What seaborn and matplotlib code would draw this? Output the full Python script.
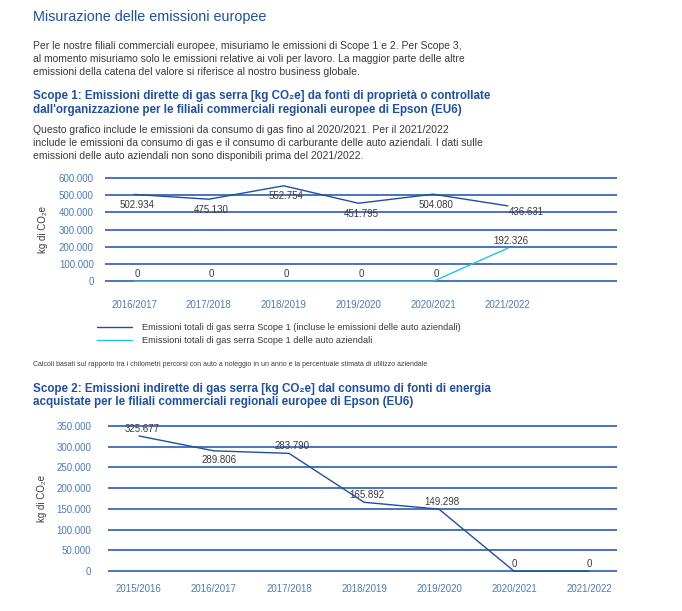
import pandas as pd
import matplotlib
matplotlib.use("Agg")
import matplotlib.pyplot as plt
import seaborn as sns

# --- data ---
years_scope1 = ["2016/2017", "2017/2018", "2018/2019", "2019/2020", "2020/2021", "2021/2022"]
scope1_total = [502934, 475130, 552754, 451795, 504080, 436631]
scope1_cars = [0, 0, 0, 0, 0, 192326]
scope1_ticks = [0, 100000, 200000, 300000, 400000, 500000, 600000]

years_scope2 = ["2015/2016", "2016/2017", "2017/2018", "2018/2019", "2019/2020", "2020/2021", "2021/2022"]
scope2_total = [325677, 289806, 283790, 165892, 149298, 0, 0]
scope2_ticks = [0, 50000, 100000, 150000, 200000, 250000, 300000, 350000]

legend_labels = [
    "Emissioni totali di gas serra Scope 1 (incluse le emissioni delle auto aziendali)",
    "Emissioni totali di gas serra Scope 1 delle auto aziendali",
]

W, H = 682, 611
TITLE_BLUE = "#1f50a6"
LINE_BLUE = "#1d4fa3"
CYAN = "#1ec6e2"
GRID = "#4a74c0"
TICK = "#4a7bc8"
TEXT = "#3a3a3a"

sns.set_theme(style="white")
plt.rcParams["font.family"] = ["Liberation Sans", "DejaVu Sans"]


def fmt(v):
    return f"{v:,.0f}".replace(",", ".")


def px(x, y):
    return x / W, 1 - y / H


def style_axes(ax, ticks, cats, xlim, ypad_tick, xpad_tick, ylabel_pad):
    ax.set_xlim(*xlim)
    top = ticks[-1]
    ax.set_ylim(-top * 0.006, top * 1.006)
    ax.set_yticks(ticks)
    ax.set_yticklabels([fmt(t) for t in ticks])
    ax.set_xticks(range(len(cats)))
    ax.set_xticklabels(cats)
    ax.tick_params(axis="y", length=0, pad=ypad_tick, labelsize=7, labelcolor=TICK)
    ax.tick_params(axis="x", length=0, pad=xpad_tick, labelsize=7, labelcolor=TICK)
    for s in ax.spines.values():
        s.set_visible(False)
    ax.grid(axis="y", color=GRID, linewidth=1.4)
    ax.grid(axis="x", visible=False)
    ax.set_axisbelow(True)
    ax.set_xlabel("")
    ax.set_ylabel("kg di CO\u2082e", fontsize=7, color=TEXT, labelpad=ylabel_pad)


fig = plt.figure(figsize=(W / 100, H / 100), dpi=100)

# --- header texts ---
fig.text(*px(33, 17), "Misurazione delle emissioni europee", fontsize=10.4,
         color=TITLE_BLUE, va="center")
intro = [
    "Per le nostre filiali commerciali europee, misuriamo le emissioni di Scope 1 e 2. Per Scope 3,",
    "al momento misuriamo solo le emissioni relative ai voli per lavoro. La maggior parte delle altre",
    "emissioni della catena del valore si riferisce al nostro business globale.",
]
for i, line in enumerate(intro):
    fig.text(*px(33, 46 + 13 * i), line, fontsize=7.5, color=TEXT, va="center")

head1 = [
    "Scope 1: Emissioni dirette di gas serra [kg CO\u2082e] da fonti di proprietà o controllate",
    "dall'organizzazione per le filiali commerciali regionali europee di Epson (EU6)",
]
for i, line in enumerate(head1):
    fig.text(*px(33, 96 + 13.5 * i), line, fontsize=8.4, fontweight="bold",
             color=TITLE_BLUE, va="center")

note1 = [
    "Questo grafico include le emissioni da consumo di gas fino al 2020/2021. Per il 2021/2022",
    "include le emissioni da consumo di gas e il consumo di carburante delle auto aziendali. I dati sulle",
    "emissioni delle auto aziendali non sono disponibili prima del 2021/2022.",
]
for i, line in enumerate(note1):
    fig.text(*px(33, 130 + 13 * i), line, fontsize=7.5, color=TEXT, va="center")

# --- scope 1 chart ---
ax1 = fig.add_axes([105 / W, 1 - 282 / H, 512 / W, 105 / H])
df1 = pd.DataFrame({"x": range(len(years_scope1)), "total": scope1_total, "cars": scope1_cars})
sns.lineplot(data=df1, x="x", y="total", ax=ax1, color=LINE_BLUE, linewidth=1.0,
             label=legend_labels[0])
sns.lineplot(data=df1, x="x", y="cars", ax=ax1, color=CYAN, linewidth=1.0,
             label=legend_labels[1])
style_axes(ax1, scope1_ticks, years_scope1, (-0.39, 6.46), 8, 13, 8)

for i, v in enumerate(scope1_total):
    if i == len(scope1_total) - 1:
        ax1.annotate(fmt(v), (i, v), xytext=(1, -1), textcoords="offset points",
                     ha="left", va="top", fontsize=7, color=TEXT)
    else:
        ax1.annotate(fmt(v), (i, v), xytext=(2, -4), textcoords="offset points",
                     ha="center", va="top", fontsize=7, color=TEXT)
for i, v in enumerate(scope1_cars):
    ax1.annotate(fmt(v), (i, v), xytext=(2, 1.5), textcoords="offset points",
                 ha="center", va="bottom", fontsize=7, color=TEXT)

ax1.legend(loc="upper left", bbox_to_anchor=px(97, 323), bbox_transform=fig.transFigure,
           frameon=False, fontsize=6.6, handlelength=3.8, handletextpad=1.1,
           borderpad=0, borderaxespad=0, labelspacing=0.45, labelcolor=TEXT)

fig.text(*px(33, 364),
         "Calcoli basati sul rapporto tra i chilometri percorsi con auto a noleggio in un anno "
         "e la percentuale stimata di utilizzo aziendale",
         fontsize=5.0, color=TEXT, va="center")

# --- scope 2 ---
head2 = [
    "Scope 2: Emissioni indirette di gas serra [kg CO\u2082e] dal consumo di fonti di energia",
    "acquistate per le filiali commerciali regionali europee di Epson (EU6)",
]
for i, line in enumerate(head2):
    fig.text(*px(33, 389 + 13.5 * i), line, fontsize=8.4, fontweight="bold",
             color=TITLE_BLUE, va="center")

ax2 = fig.add_axes([108 / W, 1 - 572 / H, 509 / W, 147 / H])
df2 = pd.DataFrame({"x": range(len(years_scope2)), "total": scope2_total})
sns.lineplot(data=df2, x="x", y="total", ax=ax2, color=LINE_BLUE, linewidth=1.0)
style_axes(ax2, scope2_ticks, years_scope2, (-0.413, 6.373), 12, 9, 7)

for i, v in enumerate(scope2_total):
    if i == 1:
        ax2.annotate(fmt(v), (i, v), xytext=(4, -3), textcoords="offset points",
                     ha="center", va="top", fontsize=7, color=TEXT)
    else:
        ax2.annotate(fmt(v), (i, v), xytext=(2 if v else 0, 1.5), textcoords="offset points",
                     ha="center", va="bottom", fontsize=7, color=TEXT)

fig.savefig("out.png", dpi=100, facecolor="white")
